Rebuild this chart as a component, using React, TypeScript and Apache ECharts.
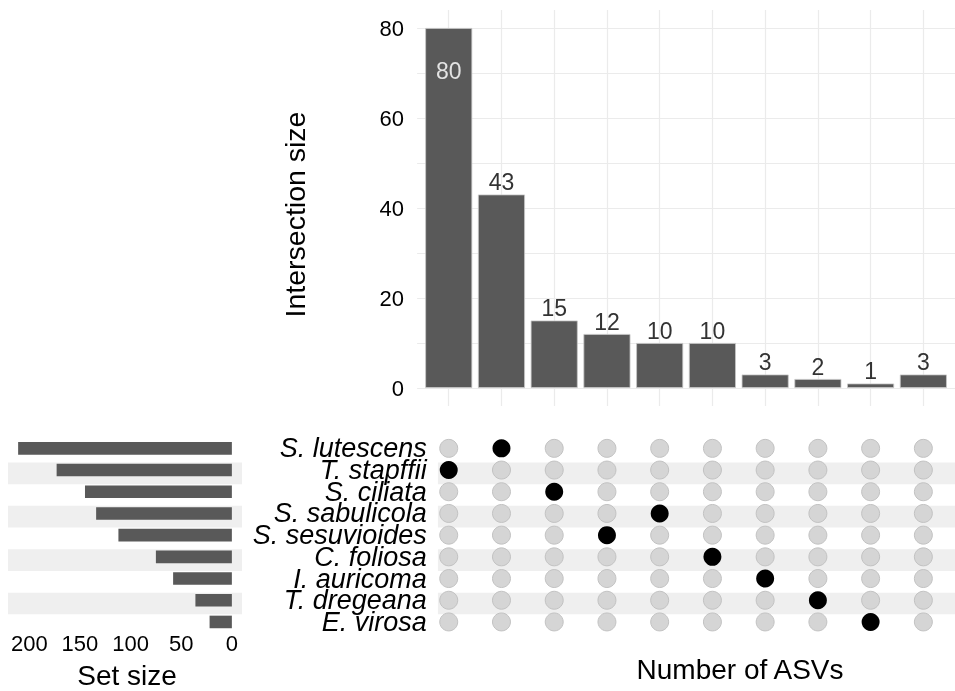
import React, { useEffect, useRef } from 'react';
import * as echarts from 'echarts';

const setNames = ['S. lutescens', 'T. stapffii', 'S. ciliata', 'S. sabulicola', 'S. sesuvioides', 'C. foliosa', 'I. auricoma', 'T. dregeana', 'E. virosa'];
const setSizes = [211, 173, 145, 134, 112, 75, 58, 36, 22];
const intersectionSizes = [80, 43, 15, 12, 10, 10, 3, 2, 1, 3];
const intersectionMembers: string[][] = [
  ['T. stapffii'], ['S. lutescens'], ['S. ciliata'], ['S. sesuvioides'], ['S. sabulicola'],
  ['C. foliosa'], ['I. auricoma'], ['T. dregeana'], ['E. virosa'], [],
];
const yLabelTicks = [0, 20, 40, 60, 80];
const yGridTicks = [0, 10, 20, 30, 40, 50, 60, 70, 80];
const setSizeTicks = [0, 50, 100, 150, 200];
const stripeRows = [2, 4, 6, 8];

const FONT = '"Liberation Sans", Arial, Helvetica, sans-serif';

export default function App() {
  const ref = useRef<HTMLDivElement>(null);
  useEffect(() => {
    if (!ref.current) return;
    const chart = echarts.init(ref.current, undefined, { renderer: 'svg' });
    const nCols = intersectionSizes.length;
    const colIdx = intersectionSizes.map((_, i) => i + 1);

    const barData = intersectionSizes.map((v, i) => {
      const item: any = { value: [i + 1, v] };
      if (i === 0) {
        item.label = { position: 'insideTop', distance: 31, color: '#e3e3e3' };
      }
      return item;
    });

    const grayDots: number[][] = [];
    const blackDots: number[][] = [];
    intersectionMembers.forEach((mem, ci) => {
      setNames.forEach((s, ri) => {
        if (mem.includes(s)) blackDots.push([ci + 1, ri + 1]);
        else grayDots.push([ci + 1, ri + 1]);
      });
    });

    const gridLeft = 417.1;
    const gridWidth = 547;
    const matTop = 437.5;
    const matHeight = 195.3;

    const stripeRender = (xStart: number, xEnd: number) => (params: any, api: any) => {
      const r = api.value(1);
      const p1 = api.coord([xStart, r - 0.35]);
      const p2 = api.coord([xEnd, r + 0.65]);
      return {
        type: 'rect',
        shape: {
          x: Math.min(p1[0], p2[0]),
          y: Math.min(p1[1], p2[1]),
          width: Math.abs(p2[0] - p1[0]),
          height: Math.abs(p2[1] - p1[1]),
        },
        style: { fill: '#efefef' },
      };
    };

    const option: any = {
      animation: false,
      textStyle: { fontFamily: FONT },
      grid: [
        { left: gridLeft, top: 10, width: gridWidth, height: 396 },
        { left: gridLeft, top: matTop, width: gridWidth, height: matHeight },
        { left: 8, top: matTop, width: 234, height: matHeight },
      ],
      xAxis: [
        {
          gridIndex: 0, type: 'value', min: 0.4, max: nCols + 0.6,
          axisLine: { show: false },
          axisTick: { show: false, customValues: colIdx },
          axisLabel: { show: false },
          splitLine: { show: true, lineStyle: { color: '#ebebeb', width: 1.2 } },
        },
        {
          gridIndex: 1, type: 'value', min: 0.4, max: nCols + 0.6, show: false,
        },
        {
          gridIndex: 2, type: 'value', min: -10, max: 221, inverse: true,
          axisLine: { show: false },
          axisTick: { show: false, customValues: setSizeTicks },
          axisLabel: {
            customValues: setSizeTicks, fontSize: 22, color: '#000', margin: 0, fontFamily: FONT,
            showMinLabel: true, showMaxLabel: true,
          },
          splitLine: { show: false },
        },
      ],
      yAxis: [
        {
          gridIndex: 0, type: 'value', min: -4, max: 84,
          axisLine: { show: false },
          axisTick: { show: false, customValues: yGridTicks },
          axisLabel: {
            customValues: yLabelTicks, fontSize: 22, color: '#000', margin: 13, fontFamily: FONT,
            showMinLabel: true, showMaxLabel: true,
          },
          splitLine: { show: true, lineStyle: { color: '#ebebeb', width: 1.2 } },
        },
        {
          gridIndex: 1, type: 'value', min: 0.5, max: setNames.length + 0.5, inverse: true, show: false,
        },
        {
          gridIndex: 2, type: 'value', min: 0.5, max: setNames.length + 0.5, inverse: true, show: false,
        },
      ],
      series: [
        {
          type: 'bar', xAxisIndex: 0, yAxisIndex: 0, barWidth: 47,
          data: barData,
          itemStyle: { color: '#595959', borderColor: '#c8c8c8', borderWidth: 0.8 },
          label: { show: true, position: 'top', distance: 1, fontSize: 23, color: '#333', fontFamily: FONT },
          z: 3,
        },
        {
          type: 'custom', xAxisIndex: 1, yAxisIndex: 1,
          data: stripeRows.map((r) => [0, r]),
          renderItem: stripeRender(0.795, nCols + 0.6),
          silent: true, z: 1,
        },
        {
          // set names, right-aligned just left of the first dot column
          type: 'custom', xAxisIndex: 1, yAxisIndex: 1,
          data: setNames.map((_, i) => [0.585, i + 1]),
          renderItem: (params: any, api: any) => {
            const p = api.coord([api.value(0), api.value(1)]);
            return {
              type: 'text',
              x: p[0], y: p[1],
              style: {
                text: setNames[params.dataIndex],
                fontSize: 27, fontStyle: 'italic', fontFamily: FONT, fill: '#000',
                align: 'right', verticalAlign: 'middle',
              },
            };
          },
          silent: true, z: 5,
        },
        {
          type: 'scatter', xAxisIndex: 1, yAxisIndex: 1, symbolSize: 18,
          data: grayDots,
          itemStyle: { color: '#d5d5d5', borderColor: '#c2c2c2', borderWidth: 1, opacity: 1 },
          z: 3,
        },
        {
          type: 'scatter', xAxisIndex: 1, yAxisIndex: 1, symbolSize: 18,
          data: blackDots,
          itemStyle: { color: '#000000', opacity: 1 },
          z: 4,
        },
        {
          type: 'custom', xAxisIndex: 2, yAxisIndex: 2,
          data: stripeRows.map((r) => [0, r]),
          renderItem: stripeRender(221, -10),
          silent: true, z: 1,
        },
        {
          type: 'custom', xAxisIndex: 2, yAxisIndex: 2,
          data: setSizes.map((v, i) => [v, i + 1]),
          renderItem: (params: any, api: any) => {
            const v = api.value(0);
            const r = api.value(1);
            const p0 = api.coord([0, r]);
            const p1 = api.coord([v, r]);
            const h = api.size([0, 0.58])[1];
            return {
              type: 'rect',
              shape: { x: Math.min(p0[0], p1[0]), y: p0[1] - h / 2, width: Math.abs(p1[0] - p0[0]), height: h },
              style: { fill: '#595959' },
            };
          },
          z: 3,
        },
      ],
      graphic: [
        {
          type: 'text', x: 295, y: 214.5, rotation: Math.PI / 2,
          style: { text: 'Intersection size', fontSize: 28.5, fontFamily: FONT, fill: '#000', align: 'center', verticalAlign: 'middle' },
        },
        {
          type: 'text', x: 740, y: 669.5,
          style: { text: 'Number of ASVs', fontSize: 28, fontFamily: FONT, fill: '#000', align: 'center', verticalAlign: 'middle' },
        },
        {
          type: 'text', x: 127, y: 675.5,
          style: { text: 'Set size', fontSize: 28, fontFamily: FONT, fill: '#000', align: 'center', verticalAlign: 'middle' },
        },
      ],
    };
    chart.setOption(option);
    return () => chart.dispose();
  }, []);
  return <div ref={ref} style={{ position: 'fixed', left: 0, top: 0, width: 955, height: 691 }} />;
}
